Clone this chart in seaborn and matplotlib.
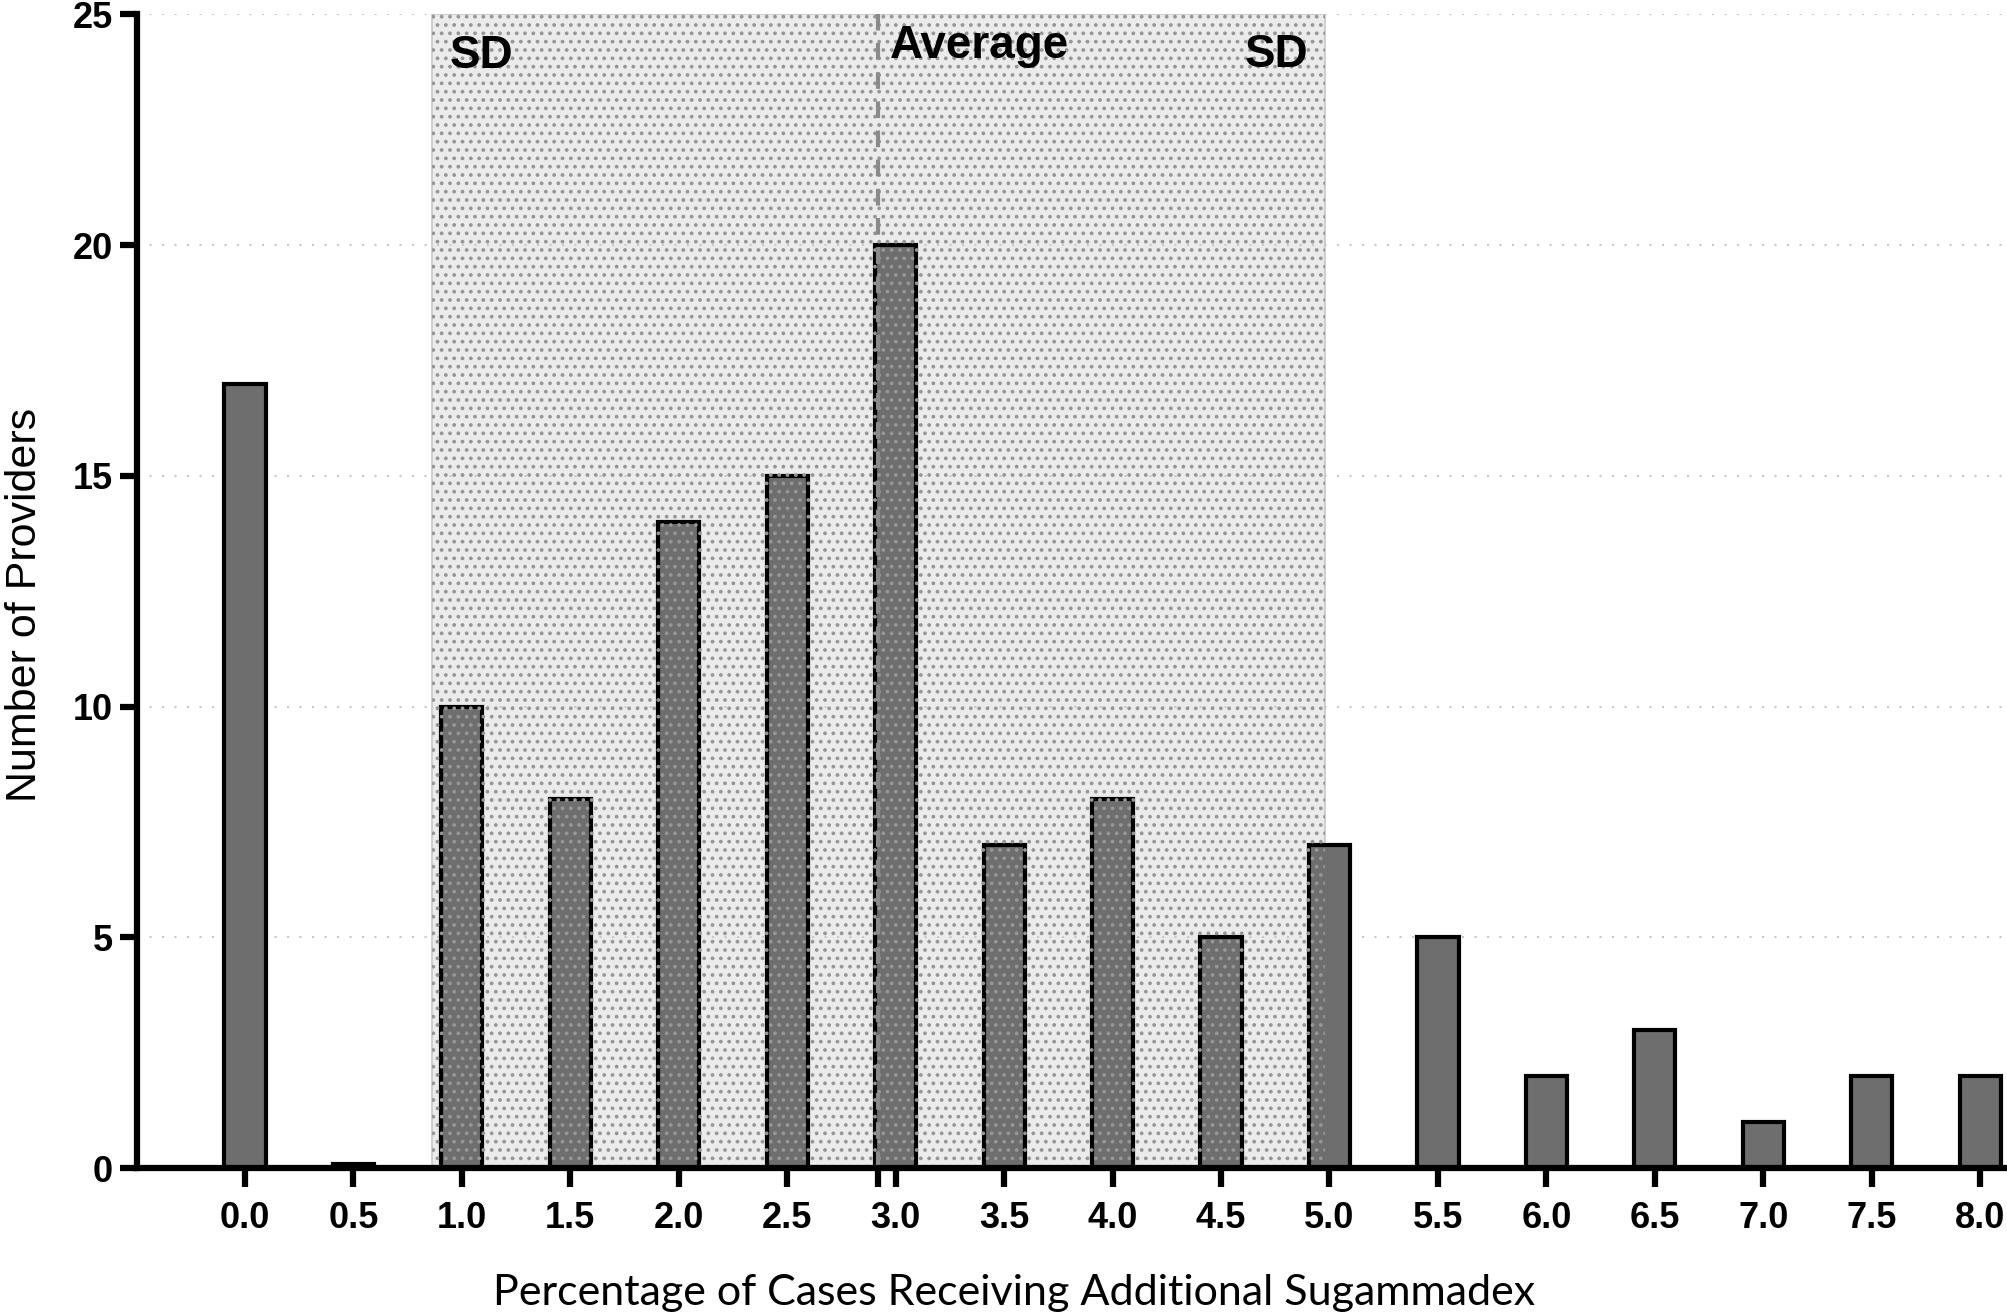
import matplotlib
matplotlib.use('Agg')
import matplotlib.pyplot as plt
import seaborn as sns
import pandas as pd
from matplotlib import font_manager

# ---- data ----
categories = ["0.0", "0.5", "1.0", "1.5", "2.0", "2.5", "3.0", "3.5", "4.0",
              "4.5", "5.0", "5.5", "6.0", "6.5", "7.0", "7.5", "8.0"]
counts = [17, 0.08, 10, 8, 14, 15, 20, 7, 8, 5, 7, 5, 2, 3, 1, 2, 2]
mean_value = 2.92
sd_value = 2.06
category_step = 0.5
y_ticks = [0, 5, 10, 15, 20, 25]

df = pd.DataFrame({"pct": categories, "n": counts})

sns.set_theme(style="white")
installed = {f.name for f in font_manager.fontManager.ttflist}
narrow = "Liberation Sans Narrow" if "Liberation Sans Narrow" in installed else "Liberation Sans"
plt.rcParams['font.family'] = ['Liberation Sans', 'DejaVu Sans']
plt.rcParams['hatch.linewidth'] = 1.5
for k in ['text.color', 'axes.labelcolor', 'xtick.color', 'ytick.color']:
    plt.rcParams[k] = 'black'

fig = plt.figure(figsize=(20.08, 13.14), dpi=100)
ax = fig.add_axes([0.068, 0.111, 0.930, 0.878])

def pos(v):
    return v / category_step

lo, hi = pos(mean_value - sd_value), pos(mean_value + sd_value)
ax.axvspan(lo, hi, ymin=0, ymax=1, facecolor='#ebebeb', edgecolor='#c8c8c8', linewidth=1.2, zorder=0)

sns.barplot(data=df, x="pct", y="n", color="#6e6e6e", edgecolor="black",
            linewidth=3.0, width=0.38, saturation=1, ax=ax, zorder=2)

ax.axvspan(lo, hi, ymin=0, ymax=1, facecolor='none', edgecolor='#969696', hatch='..', linewidth=0, zorder=3)

# average line
ax.axvline(pos(mean_value), color='#8a8a8a', linestyle=(0, (4, 3)), linewidth=3, zorder=4)

# grid
for yv in y_ticks[1:]:
    ax.axhline(yv, color='#c8c8c8', linestyle=(0, (1, 5)), linewidth=1.5, zorder=1)

ax.set_ylim(0, 25)
ax.set_xlim(-1, 16.22)
ax.set_yticks(y_ticks)
ax.set_yticklabels([str(t) for t in y_ticks], fontsize=26, fontweight='bold')
ax.set_xticks(range(len(categories)))
ax.set_xticklabels(categories, fontsize=26, fontweight='bold', family=narrow)
ax.set_xticks([pos(mean_value)], minor=True)

for s in ['top', 'right']:
    ax.spines[s].set_visible(False)
for s in ['left', 'bottom']:
    ax.spines[s].set_linewidth(4.5)
    ax.spines[s].set_color('black')
    ax.spines[s].set_zorder(5)
    ax.spines[s].set_capstyle('projecting')

ax.tick_params(axis='x', which='both', length=14, width=4.5, pad=10, colors='black', bottom=True)
ax.tick_params(axis='y', which='major', length=12, width=4.5, pad=5, colors='black', left=True)

ax.set_ylabel("Number of Providers", fontsize=31, family=['Liberation Sans'])
ax.yaxis.set_label_coords(-0.049, 0.488)
ax.set_xlabel("Percentage of Cases Receiving Additional Sugammadex", fontsize=31, family=['Lato', 'DejaVu Sans'])
ax.xaxis.set_label_coords(0.47, -0.108)
ax.xaxis.label.set_va('center')

ax.text(1.89, 24.58, "SD", fontsize=33, fontweight='bold', va='top', ha='left', zorder=6)
ax.text(9.22, 24.6, "SD", fontsize=33, fontweight='bold', va='top', ha='left', zorder=6)
ax.text(5.95, 24.8, "Average", fontsize=33, fontweight='bold', va='top', ha='left', zorder=6)

fig.savefig("out.png", dpi=100, facecolor='white')
